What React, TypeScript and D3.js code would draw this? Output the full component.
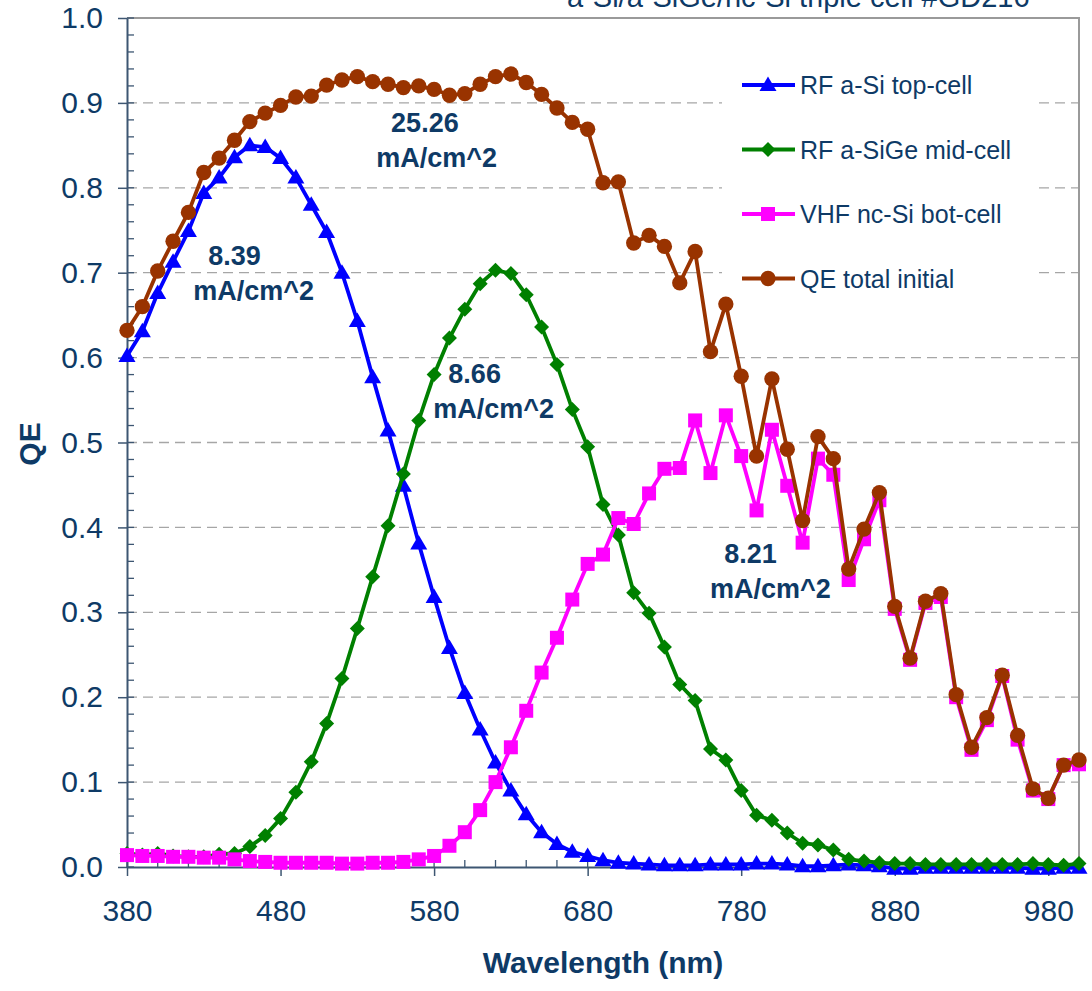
import React, { useEffect, useRef } from "react";
import * as d3 from "d3";

const wavelength = [
  380, 390, 400, 410, 420, 430, 440, 450, 460, 470, 480, 490, 500, 510, 520, 530,
  540, 550, 560, 570, 580, 590, 600, 610, 620, 630, 640, 650, 660, 670, 680, 690,
  700, 710, 720, 730, 740, 750, 760, 770, 780, 790, 800, 810, 820, 830, 840, 850,
  860, 870, 880, 890, 900, 910, 920, 930, 940, 950, 960, 970, 980, 990, 1000,
];

const topCell = [
  0.602, 0.631, 0.676, 0.713, 0.749, 0.794, 0.812, 0.836, 0.85, 0.848, 0.835, 0.812, 0.78, 0.748, 0.7, 0.643,
  0.577, 0.514, 0.449, 0.381, 0.318, 0.258, 0.205, 0.162, 0.123, 0.09, 0.062, 0.041, 0.027, 0.018, 0.013, 0.008,
  0.005, 0.004, 0.003, 0.002, 0.002, 0.002, 0.003, 0.003, 0.003, 0.004, 0.004, 0.003, 0.001, 0.001, 0.002, 0.003,
  0.002, 0.001, -0.002, -0.002, -0.001, -0.001, -0.001, -0.001, -0.001, -0.001, -0.001, -0.002, -0.002, -0.001, -0.001,
];

const midCell = [
  0.016, 0.014, 0.016, 0.013, 0.012, 0.012, 0.015, 0.016, 0.024, 0.037, 0.057, 0.088, 0.124, 0.169, 0.222, 0.281,
  0.342, 0.402, 0.463, 0.526, 0.58, 0.623, 0.657, 0.687, 0.703, 0.699, 0.674, 0.636, 0.592, 0.539, 0.495, 0.427,
  0.391, 0.323, 0.299, 0.259, 0.215, 0.196, 0.139, 0.126, 0.09, 0.061, 0.055, 0.04, 0.028, 0.026, 0.02, 0.009,
  0.007, 0.005, 0.004, 0.004, 0.003, 0.003, 0.003, 0.003, 0.003, 0.003, 0.003, 0.004, 0.003, 0.002, 0.004,
];

const botCell = [
  0.014, 0.013, 0.013, 0.012, 0.012, 0.011, 0.011, 0.009, 0.007, 0.006, 0.005, 0.005, 0.005, 0.005, 0.004, 0.004,
  0.005, 0.005, 0.006, 0.009, 0.013, 0.025, 0.041, 0.067, 0.1, 0.141, 0.184, 0.229, 0.27, 0.315, 0.357, 0.368,
  0.411, 0.404, 0.44, 0.469, 0.47, 0.526, 0.464, 0.532, 0.484, 0.42, 0.515, 0.449, 0.382, 0.481, 0.462, 0.338,
  0.386, 0.432, 0.304, 0.244, 0.311, 0.318, 0.2, 0.138, 0.173, 0.225, 0.15, 0.09, 0.08, 0.12, 0.121,
];

const qeTotal = [
  0.632, 0.66, 0.702, 0.737, 0.771, 0.818, 0.835, 0.856, 0.878, 0.888, 0.897, 0.907, 0.908, 0.921, 0.927, 0.931,
  0.925, 0.922, 0.918, 0.92, 0.916, 0.909, 0.911, 0.922, 0.931, 0.934, 0.924, 0.91, 0.894, 0.877, 0.869, 0.806,
  0.807, 0.735, 0.744, 0.731, 0.688, 0.725, 0.607, 0.663, 0.578, 0.484, 0.575, 0.492, 0.408, 0.507, 0.481, 0.351,
  0.398, 0.441, 0.307, 0.246, 0.313, 0.322, 0.203, 0.141, 0.176, 0.226, 0.155, 0.092, 0.081, 0.12, 0.126,
];

const seriesNames = ["RF a-Si top-cell", "RF a-SiGe mid-cell", "VHF nc-Si bot-cell", "QE total initial"];
const seriesColors = ["#0000ff", "#008000", "#ff00ff", "#993300"];
const seriesMarkers = ["triangle", "diamond", "square", "circle"];

const xTicks = [380, 480, 580, 680, 780, 880, 980];
const yTicks = [0, 0.1, 0.2, 0.3, 0.4, 0.5, 0.6, 0.7, 0.8, 0.9, 1.0];

// photocurrent of each cell, in mA/cm^2
const currents = ["8.39", "25.26", "8.66", "8.21"];
// where each label sits: [wavelength of the number, wavelength of the unit line, QE of the number baseline]
const currentPos = [
  [450, 462.5, 0.709],
  [574, 581.7, 0.866],
  [606.4, 618.8, 0.57],
  [786, 799, 0.358],
];

const title = "a-Si/a-SiGe/nc-Si triple cell #GD216";

const FONT = "'Liberation Sans', Arial, sans-serif";
const TEXT = "#0e3a66";
const AXIS = "#3d5672";

function markerPath(type: string) {
  if (type === "triangle") return "M0,-8.5L8.5,6L-8.5,6Z";
  if (type === "diamond") return "M0,-7.5L7.5,0L0,7.5L-7.5,0Z";
  if (type === "square") return "M-7,-7L7,-7L7,7L-7,7Z";
  return d3.symbol().type(d3.symbolCircle).size(185)() as string;
}

export default function App() {
  const ref = useRef<SVGSVGElement>(null);

  useEffect(() => {
    const svg = d3.select(ref.current);
    svg.selectAll("*").remove();

    const left = 127, right = 1079, top = 18, bottom = 867;
    const x = d3.scaleLinear().domain([380, 1000]).range([left, right]);
    const y = d3.scaleLinear().domain([0, 1]).range([bottom, top]);

    svg.append("text")
      .attr("x", 567).attr("y", 7)
      .attr("font-size", 29).attr("fill", TEXT)
      .text(title);

    // grid
    svg.append("g")
      .selectAll("line")
      .data(yTicks.filter(d => d > 0 && d < 1))
      .enter().append("line")
      .attr("x1", left).attr("x2", right)
      .attr("y1", d => y(d)).attr("y2", d => y(d))
      .attr("stroke", "#a6a6a6").attr("stroke-width", 1.3)
      .attr("stroke-dasharray", "10,6");

    // plot border (top / right)
    svg.append("path")
      .attr("d", `M${left},${top}H${right}V${bottom}`)
      .attr("fill", "none").attr("stroke", "#9a9a9a").attr("stroke-width", 2);

    // minor ticks
    svg.append("g").selectAll("line")
      .data(d3.range(0, 1.0001, 0.02))
      .enter().append("line")
      .attr("x1", left).attr("x2", left + 7)
      .attr("y1", d => y(d)).attr("y2", d => y(d))
      .attr("stroke", AXIS).attr("stroke-width", 1.3);
    svg.append("g").selectAll("line")
      .data(d3.range(380, 1001, 20))
      .enter().append("line")
      .attr("x1", d => x(d)).attr("x2", d => x(d))
      .attr("y1", bottom - 7).attr("y2", bottom)
      .attr("stroke", AXIS).attr("stroke-width", 1.3);

    const yAxis = svg.append("g")
      .attr("transform", `translate(${left},0)`)
      .call(d3.axisLeft(y).tickValues(yTicks).tickFormat(d3.format(".1f")).tickSize(9).tickPadding(15).tickSizeOuter(0));
    const xAxis = svg.append("g")
      .attr("transform", `translate(0,${bottom})`)
      .call(d3.axisBottom(x).tickValues(xTicks).tickFormat(d3.format("d")).tickSize(9).tickPadding(24).tickSizeOuter(0));
    [yAxis, xAxis].forEach(g => {
      g.select(".domain").attr("stroke", AXIS).attr("stroke-width", 2);
      g.selectAll(".tick line").attr("stroke", AXIS).attr("stroke-width", 1.5);
      g.selectAll(".tick text").attr("fill", TEXT).attr("font-size", 30).attr("font-family", FONT);
    });

    const line = d3.line<number>()
      .x((_, i) => x(wavelength[i]))
      .y(d => y(d));

    [topCell, midCell, botCell, qeTotal].forEach((values, s) => {
      const g = svg.append("g");
      g.append("path")
        .datum(values)
        .attr("fill", "none")
        .attr("stroke", seriesColors[s])
        .attr("stroke-width", 3.8)
        .attr("stroke-linejoin", "round")
        .attr("d", line);
      g.selectAll("path.marker")
        .data(values)
        .enter().append("path")
        .attr("class", "marker")
        .attr("transform", (d, i) => `translate(${x(wavelength[i])},${y(d)})`)
        .attr("d", markerPath(seriesMarkers[s]))
        .attr("fill", seriesColors[s]);
    });

    // current labels
    currents.forEach((c, i) => {
      const [nx, ux, qy] = currentPos[i];
      const t = svg.append("text")
        .attr("y", y(qy))
        .attr("text-anchor", "middle")
        .attr("font-size", 27).attr("font-weight", "bold").attr("fill", TEXT);
      t.append("tspan").attr("x", x(nx)).text(c);
      t.append("tspan").attr("x", x(ux)).attr("dy", 35).text("mA/cm^2");
    });

    // legend
    const legend = svg.append("g");
    legend.append("rect")
      .attr("x", 722).attr("y", 56).attr("width", 312).attr("height", 236)
      .attr("fill", "#fff");
    seriesNames.forEach((name, s) => {
      const ly = 85 + s * 64.5;
      legend.append("line")
        .attr("x1", 742).attr("x2", 795).attr("y1", ly).attr("y2", ly)
        .attr("stroke", seriesColors[s]).attr("stroke-width", 3.8);
      legend.append("path")
        .attr("transform", `translate(768,${ly})`)
        .attr("d", markerPath(seriesMarkers[s]))
        .attr("fill", seriesColors[s]);
      legend.append("text")
        .attr("x", 800).attr("y", ly).attr("dy", "0.36em")
        .attr("font-size", 25).attr("fill", TEXT)
        .text(name);
    });

    svg.append("text")
      .attr("x", 603).attr("y", 973)
      .attr("text-anchor", "middle")
      .attr("font-size", 30).attr("font-weight", "bold").attr("fill", TEXT)
      .text("Wavelength (nm)");
    svg.append("text")
      .attr("transform", "translate(40,444) rotate(-90)")
      .attr("text-anchor", "middle")
      .attr("font-size", 30).attr("font-weight", "bold").attr("fill", TEXT)
      .text("QE");
  }, []);

  return (
    <svg
      ref={ref}
      width={1092}
      height={991}
      fontFamily={FONT}
      style={{ position: "absolute", left: 0, top: 0, background: "#fff" }}
    />
  );
}
